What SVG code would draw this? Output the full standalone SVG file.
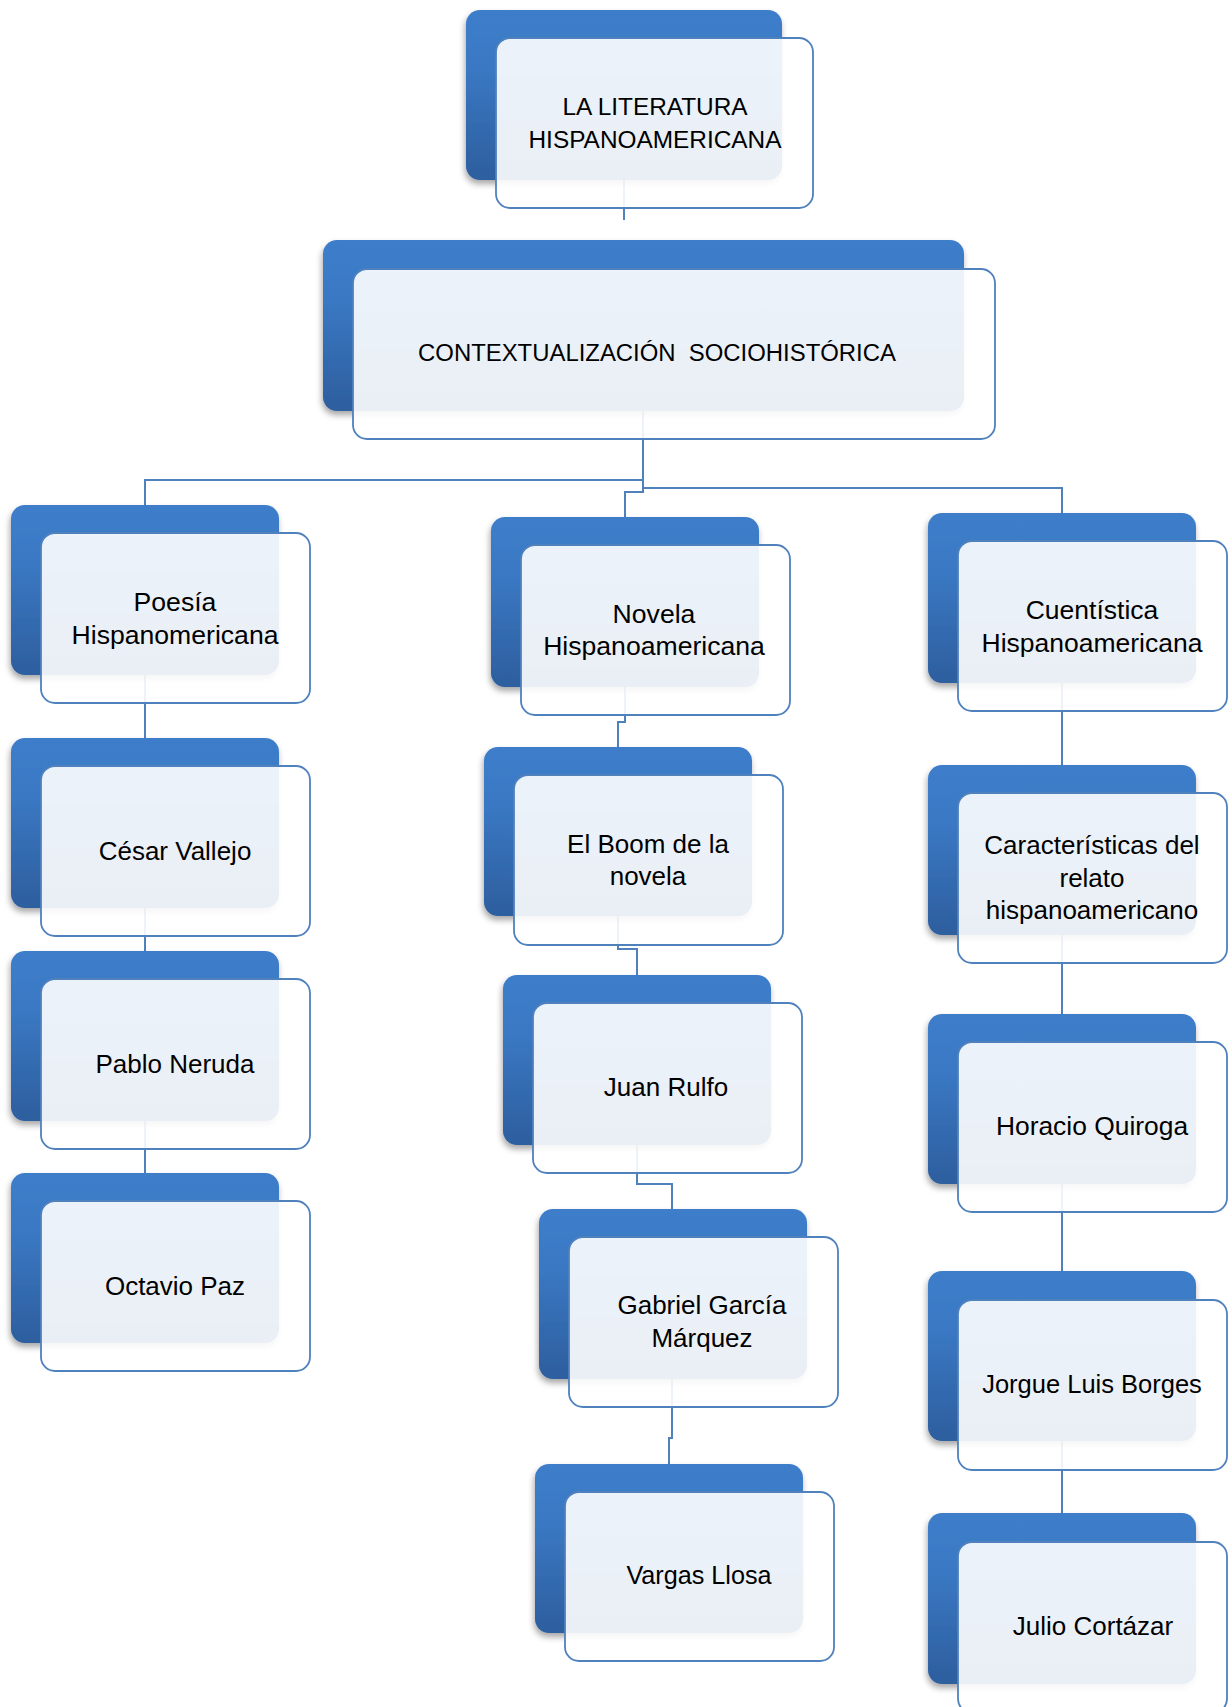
<svg xmlns="http://www.w3.org/2000/svg" width="1232" height="1707" viewBox="0 0 1232 1707">
<defs>
<linearGradient id="blue" x1="0" y1="0" x2="0" y2="1">
<stop offset="0" stop-color="#3D7DCA"/>
<stop offset="0.35" stop-color="#3A78C3"/>
<stop offset="1" stop-color="#2D5E9E"/>
</linearGradient>
<filter id="shadow" x="-10%" y="-10%" width="120%" height="130%">
<feDropShadow dx="-1" dy="4" stdDeviation="3" flood-color="#000" flood-opacity="0.35"/>
</filter>
</defs>
<style>
.back{fill:url(#blue);filter:url(#shadow)}
.front{fill:#fff;fill-opacity:0.9;stroke:#4F81BD;stroke-width:1.8}
.conn{fill:none;stroke:#4F81BD;stroke-width:2}
text{font-family:"Liberation Sans",Arial,sans-serif;fill:#000;text-anchor:middle}
.t{font-size:26px}
.u{font-size:24.4px}
</style>
<rect width="1232" height="1707" fill="#fff"/>
<g id="connectors">
<path class="conn" d="M624,180 V220"/>
<path class="conn" d="M643,411 V480 H145 V505"/>
<path class="conn" d="M643,411 V488 H1062 V513"/>
<path class="conn" d="M643,411 V492 H625 V517"/>
<path class="conn" d="M625,687 V722 H618 V747"/>
<path class="conn" d="M618,916 V949 H637 V975"/>
<path class="conn" d="M637,1145 V1184 H672 V1209"/>
<path class="conn" d="M672,1379 V1438 H669 V1464"/>
<path class="conn" d="M145,675 V738"/>
<path class="conn" d="M145,908 V951"/>
<path class="conn" d="M145,1121 V1173"/>
<path class="conn" d="M1062,683 V765"/>
<path class="conn" d="M1062,935 V1014"/>
<path class="conn" d="M1062,1184 V1271"/>
<path class="conn" d="M1062,1441 V1513"/>
</g>
<g id="node-literatura">
<rect class="back" x="466" y="10" width="316" height="170" rx="14"/>
<rect class="front" x="496" y="38" width="317" height="170" rx="14"/>
<text class="u" x="655" y="115">LA LITERATURA</text>
<text class="u" x="655" y="148">HISPANOAMERICANA</text>
</g>
<g id="node-contexto">
<rect class="back" x="323" y="240" width="641" height="171" rx="14"/>
<rect class="front" x="353" y="269" width="642" height="170" rx="14"/>
<text style="font-size:23.9px" x="657" y="361" xml:space="preserve">CONTEXTUALIZACIÓN  SOCIOHISTÓRICA</text>
</g>
<g id="node-poesia">
<rect class="back" x="11" y="505" width="268" height="170" rx="14"/>
<rect class="front" x="41" y="533" width="269" height="170" rx="14"/>
<text class="t" style="font-size:26.6px" x="175" y="611">Poesía</text>
<text class="t" style="font-size:26.6px" x="175" y="644">Hispanomericana</text>
</g>
<g id="node-vallejo">
<rect class="back" x="11" y="738" width="268" height="170" rx="14"/>
<rect class="front" x="41" y="766" width="269" height="170" rx="14"/>
<text class="t" x="175" y="860">César Vallejo</text>
</g>
<g id="node-neruda">
<rect class="back" x="11" y="951" width="268" height="170" rx="14"/>
<rect class="front" x="41" y="979" width="269" height="170" rx="14"/>
<text class="t" x="175" y="1073">Pablo Neruda</text>
</g>
<g id="node-paz">
<rect class="back" x="11" y="1173" width="268" height="170" rx="14"/>
<rect class="front" x="41" y="1201" width="269" height="170" rx="14"/>
<text class="t" x="175" y="1295">Octavio Paz</text>
</g>
<g id="node-novela">
<rect class="back" x="491" y="517" width="268" height="170" rx="14"/>
<rect class="front" x="521" y="545" width="269" height="170" rx="14"/>
<text class="t" style="font-size:26.6px" x="654" y="623">Novela</text>
<text class="t" style="font-size:26.6px" x="654" y="655">Hispanoamericana</text>
</g>
<g id="node-boom">
<rect class="back" x="484" y="747" width="268" height="169" rx="14"/>
<rect class="front" x="514" y="775" width="269" height="170" rx="14"/>
<text class="t" x="648" y="853">El Boom de la</text>
<text class="t" x="648" y="885">novela</text>
</g>
<g id="node-rulfo">
<rect class="back" x="503" y="975" width="268" height="170" rx="14"/>
<rect class="front" x="533" y="1003" width="269" height="170" rx="14"/>
<text class="t" x="666" y="1096">Juan Rulfo</text>
</g>
<g id="node-garcia">
<rect class="back" x="539" y="1209" width="268" height="170" rx="14"/>
<rect class="front" x="569" y="1237" width="269" height="170" rx="14"/>
<text class="t" x="702" y="1314">Gabriel García</text>
<text class="t" x="702" y="1347">Márquez</text>
</g>
<g id="node-vargas">
<rect class="back" x="535" y="1464" width="268" height="169" rx="14"/>
<rect class="front" x="565" y="1492" width="269" height="169" rx="14"/>
<text class="t" style="font-size:25.2px" x="699" y="1584">Vargas Llosa</text>
</g>
<g id="node-cuentistica">
<rect class="back" x="928" y="513" width="268" height="170" rx="14"/>
<rect class="front" x="958" y="541" width="269" height="170" rx="14"/>
<text class="t" style="font-size:26.5px" x="1092" y="619">Cuentística</text>
<text class="t" style="font-size:26.5px" x="1092" y="652">Hispanoamericana</text>
</g>
<g id="node-caracteristicas">
<rect class="back" x="928" y="765" width="268" height="170" rx="14"/>
<rect class="front" x="958" y="793" width="269" height="170" rx="14"/>
<text class="t" x="1092" y="854">Características del</text>
<text class="t" x="1092" y="887">relato</text>
<text class="t" x="1092" y="919">hispanoamericano</text>
</g>
<g id="node-quiroga">
<rect class="back" x="928" y="1014" width="268" height="170" rx="14"/>
<rect class="front" x="958" y="1042" width="269" height="170" rx="14"/>
<text class="t" style="font-size:26.4px" x="1092" y="1135">Horacio Quiroga</text>
</g>
<g id="node-borges">
<rect class="back" x="928" y="1271" width="268" height="170" rx="14"/>
<rect class="front" x="958" y="1300" width="269" height="170" rx="14"/>
<text class="t" style="font-size:25.5px" x="1092" y="1393">Jorgue Luis Borges</text>
</g>
<g id="node-cortazar">
<rect class="back" x="928" y="1513" width="268" height="171" rx="14"/>
<rect class="front" x="958" y="1542" width="269" height="171" rx="14"/>
<text class="t" x="1093" y="1635">Julio Cortázar</text>
</g>
</svg>
